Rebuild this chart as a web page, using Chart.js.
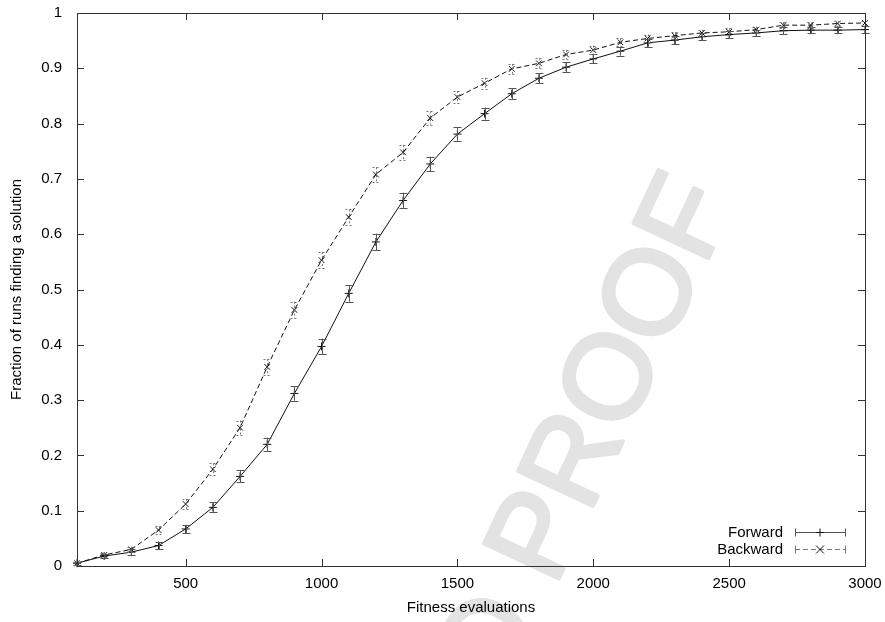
<!DOCTYPE html>
<html>
<head>
<meta charset="utf-8">
<script src="https://cdn.jsdelivr.net/npm/chart.js@4/dist/chart.umd.min.js"></script>
<style>
  html, body { margin: 0; padding: 0; background: #fff; }
  #wrap { width: 885px; height: 622px; }
</style>
</head>
<body>
<div id="wrap"><canvas id="solveChart" width="885" height="622"></canvas></div>
<script>
// fitness evaluations sampled every 100
const evals = [100, 200, 300, 400, 500, 600, 700, 800, 900, 1000,
               1100, 1200, 1300, 1400, 1500, 1600, 1700, 1800, 1900, 2000,
               2100, 2200, 2300, 2400, 2500, 2600, 2700, 2800, 2900, 3000];

const forward = [0.005, 0.018, 0.025, 0.037, 0.067, 0.106, 0.162, 0.220, 0.312, 0.397,
                 0.493, 0.586, 0.661, 0.727, 0.781, 0.818, 0.854, 0.882, 0.902, 0.917,
                 0.931, 0.946, 0.951, 0.957, 0.961, 0.964, 0.968, 0.969, 0.969, 0.970];
const forwardErr = [0.003, 0.004, 0.005, 0.006, 0.007, 0.009, 0.011, 0.012, 0.013, 0.014,
                    0.015, 0.015, 0.014, 0.013, 0.012, 0.011, 0.010, 0.009, 0.009, 0.008,
                    0.008, 0.007, 0.007, 0.006, 0.006, 0.006, 0.006, 0.006, 0.006, 0.006];

const backward = [0.005, 0.020, 0.030, 0.065, 0.112, 0.175, 0.250, 0.360, 0.463, 0.553,
                  0.631, 0.708, 0.748, 0.810, 0.848, 0.873, 0.899, 0.909, 0.925, 0.933,
                  0.947, 0.954, 0.959, 0.964, 0.966, 0.970, 0.978, 0.978, 0.981, 0.982];
const backwardErr = [0.003, 0.004, 0.005, 0.007, 0.009, 0.011, 0.013, 0.014, 0.015, 0.015,
                     0.014, 0.013, 0.013, 0.012, 0.011, 0.010, 0.009, 0.009, 0.008, 0.008,
                     0.007, 0.007, 0.006, 0.006, 0.006, 0.005, 0.005, 0.005, 0.004, 0.004];

const xTicks = [500, 1000, 1500, 2000, 2500, 3000];
const seriesNames = ["Forward", "Backward"];

const FONT = "'Liberation Sans', Arial, Helvetica, sans-serif";
const FRAME = "#333";

// gnuplot-ish look: boxed frame with inward ticks on all sides
const framePlugin = {
    id: "frame",
    beforeDraw(chart) {
        const ctx = chart.ctx;
        ctx.save();
        ctx.fillStyle = "#fff";
        ctx.fillRect(0, 0, chart.width, chart.height);
        // proof stamp behind everything
        ctx.translate(615, 380);
        ctx.rotate(-65 * Math.PI / 180);
        ctx.font = "120px " + FONT;
        ctx.fillStyle = "#e3e3e3";
        ctx.strokeStyle = "#e3e3e3";
        ctx.lineWidth = 4;
        ctx.lineJoin = "round";
        ctx.textBaseline = "middle";
        ctx.textAlign = "right";
        const half = ctx.measureText("PROOF").width / 2;
        ctx.fillText("UNCORRECTED PROOF", half, 0);
        ctx.strokeText("UNCORRECTED PROOF", half, 0);
        ctx.restore();
    },
    afterDraw(chart) {
        const { ctx, chartArea: a, scales } = chart;
        ctx.save();
        ctx.strokeStyle = FRAME;
        ctx.lineWidth = 1;
        ctx.strokeRect(a.left + 0.5, a.top + 0.5, a.right - a.left, a.bottom - a.top);
        const len = 7;
        ctx.beginPath();
        scales.y.ticks.forEach(t => {
            const y = Math.round(scales.y.getPixelForValue(t.value)) + 0.5;
            ctx.moveTo(a.left, y); ctx.lineTo(a.left + len, y);
            ctx.moveTo(a.right, y); ctx.lineTo(a.right - len, y);
        });
        scales.x.ticks.forEach(t => {
            const x = Math.round(scales.x.getPixelForValue(t.value)) + 0.5;
            ctx.moveTo(x, a.bottom); ctx.lineTo(x, a.bottom - len);
            ctx.moveTo(x, a.top); ctx.lineTo(x, a.top + len);
        });
        ctx.stroke();
        ctx.restore();
    }
};

// vertical error bars with small caps, same dash style as the series
const errorBarPlugin = {
    id: "errorBars",
    afterDatasetsDraw(chart) {
        const ctx = chart.ctx;
        const ys = chart.scales.y;
        chart.data.datasets.forEach((ds, i) => {
            const meta = chart.getDatasetMeta(i);
            ctx.save();
            ctx.strokeStyle = ds.errColor;
            ctx.lineWidth = 1;
            ctx.setLineDash(ds.errDash);
            meta.data.forEach((pt, j) => {
                const v = ds.data[j].y, e = ds.errors[j];
                const x = Math.round(pt.x) + 0.5;
                const top = ys.getPixelForValue(v + e);
                const bot = ys.getPixelForValue(v - e);
                ctx.beginPath();
                ctx.moveTo(x, top); ctx.lineTo(x, bot);
                ctx.moveTo(x - 4, Math.round(top) + 0.5); ctx.lineTo(x + 4, Math.round(top) + 0.5);
                ctx.moveTo(x - 4, Math.round(bot) + 0.5); ctx.lineTo(x + 4, Math.round(bot) + 0.5);
                ctx.stroke();
            });
            ctx.restore();
        });
    }
};

// key in the lower right corner, drawn the gnuplot way
const keyPlugin = {
    id: "key",
    afterDraw(chart) {
        const ctx = chart.ctx;
        const a = chart.chartArea;
        const textRight = a.right - 82;
        const x0 = a.right - 70, x1 = a.right - 20, xm = (x0 + x1) / 2;
        ctx.save();
        ctx.font = "15px " + FONT;
        ctx.fillStyle = "#000";
        ctx.textAlign = "right";
        ctx.textBaseline = "middle";
        chart.data.datasets.forEach((ds, i) => {
            const y = a.bottom - 34 + i * 17 + 0.5;
            ctx.fillText(ds.label, textRight, y);
            ctx.strokeStyle = ds.errColor;
            ctx.lineWidth = 1;
            ctx.setLineDash(ds.borderDash);
            ctx.beginPath();
            ctx.moveTo(x0, y); ctx.lineTo(x1, y);
            ctx.stroke();
            ctx.setLineDash([]);
            ctx.beginPath();
            ctx.moveTo(x0 + 0.5, y - 4); ctx.lineTo(x0 + 0.5, y + 4);
            ctx.moveTo(x1 + 0.5, y - 4); ctx.lineTo(x1 + 0.5, y + 4);
            ctx.stroke();
            ctx.strokeStyle = ds.borderColor;
            ctx.beginPath();
            if (ds.pointStyle === "cross") {
                ctx.moveTo(xm, y - 4); ctx.lineTo(xm, y + 4);
                ctx.moveTo(xm - 4, y); ctx.lineTo(xm + 4, y);
            } else {
                ctx.moveTo(xm - 4, y - 4); ctx.lineTo(xm + 4, y + 4);
                ctx.moveTo(xm - 4, y + 4); ctx.lineTo(xm + 4, y - 4);
            }
            ctx.stroke();
        });
        ctx.restore();
    }
};

const toPoints = vals => vals.map((v, i) => ({ x: evals[i], y: v }));

new Chart(document.getElementById("solveChart"), {
    type: "line",
    data: {
        datasets: [{
            label: seriesNames[0],
            data: toPoints(forward),
            errors: forwardErr,
            borderColor: "#111",
            borderWidth: 1,
            borderDash: [],
            errColor: "#555",
            errDash: [],
            pointStyle: "cross",
            pointRadius: 4,
            pointBorderColor: "#111",
            pointBorderWidth: 1,
            fill: false,
            tension: 0
        }, {
            label: seriesNames[1],
            data: toPoints(backward),
            errors: backwardErr,
            borderColor: "#111",
            borderWidth: 1,
            borderDash: [5, 3],
            errColor: "#777",
            errDash: [2, 2],
            pointStyle: "crossRot",
            pointRadius: 4,
            pointBorderColor: "#111",
            pointBorderWidth: 1,
            fill: false,
            tension: 0
        }]
    },
    options: {
        responsive: false,
        animation: false,
        devicePixelRatio: 1,
        clip: false,
        layout: { padding: { top: 13, right: 20, left: 0, bottom: 0 } },
        plugins: {
            legend: { display: false },
            tooltip: { enabled: false }
        },
        scales: {
            x: {
                type: "linear",
                min: 100,
                max: 3000,
                afterBuildTicks: s => { s.ticks = xTicks.map(v => ({ value: v })); },
                afterFit: s => { s.height = 56; s.paddingLeft = 0; s.paddingRight = 0; },
                grid: { display: false, drawTicks: false },
                border: { display: false },
                ticks: { padding: 9, color: "#000", font: { family: FONT, size: 15 }, maxRotation: 0, autoSkip: false,
                         callback: v => String(v) },
                title: { display: true, text: "Fitness evaluations", color: "#000",
                         font: { family: FONT, size: 15 }, padding: { top: 0, bottom: 5 } }
            },
            y: {
                min: 0,
                max: 1,
                afterFit: s => { s.width = 77; s.paddingTop = 0; s.paddingBottom = 0; },
                grid: { display: false, drawTicks: false },
                border: { display: false },
                ticks: { stepSize: 0.1, padding: 15, color: "#000", font: { family: FONT, size: 15 },
                         callback: v => String(Number(v.toFixed(1))) },
                title: { display: true, text: "Fraction of runs finding a solution", color: "#000",
                         font: { family: FONT, size: 15 }, padding: { top: 8, bottom: 0 } }
            }
        }
    },
    plugins: [framePlugin, errorBarPlugin, keyPlugin]
});
</script>
</body>
</html>
